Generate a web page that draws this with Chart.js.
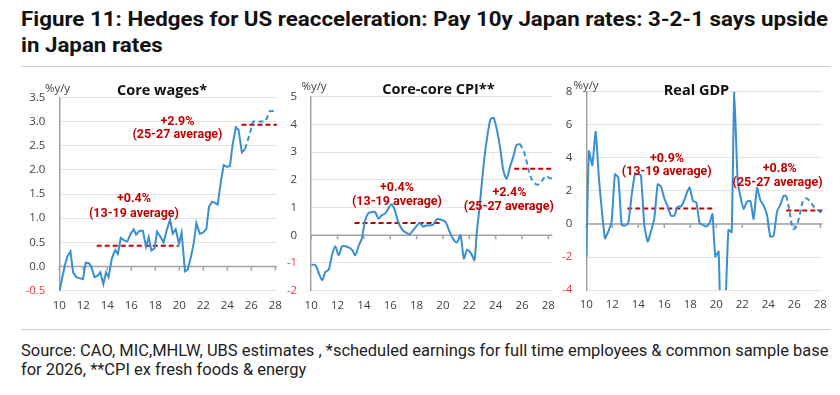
<!DOCTYPE html>
<html><head><meta charset="utf-8">
<script src="https://cdn.jsdelivr.net/npm/chart.js@4.4.1/dist/chart.umd.min.js"></script>
<style>
html,body{margin:0;padding:0;background:#fff;}
#wrap{position:relative;width:840px;height:395px;overflow:hidden;font-family:Roboto,"Open Sans",sans-serif;}
.t{position:absolute;left:21px;white-space:nowrap;font-weight:700;color:#111;font-size:21px;line-height:26px;transform-origin:0 50%;}
.s{position:absolute;left:21px;white-space:nowrap;color:#222;font-size:15px;line-height:18.5px;}
.rule{position:absolute;left:21px;width:810px;height:1.5px;background:#cfcfcf;}
canvas{position:absolute;}
</style></head><body>
<div id="wrap">
<div class="t" id="t1" style="top:6px">Figure 11: Hedges for US reacceleration: Pay 10y Japan rates: 3-2-1 says upside</div>
<div class="t" id="t2" style="top:32px">in Japan rates</div>
<div class="rule" style="top:65.5px"></div>
<canvas id="c1" width="290" height="250" style="left:0px;top:70px"></canvas>
<canvas id="c2" width="285" height="250" style="left:280px;top:70px"></canvas>
<canvas id="c3" width="285" height="250" style="left:555px;top:70px"></canvas>
<div class="rule" style="top:328.5px"></div>
<div class="s" id="s1" style="top:342px">Source: CAO, MIC,MHLW, UBS estimates , *scheduled earnings for full time employees &amp; common sample base</div>
<div class="s" id="s2" style="top:360.5px">for 2026, **CPI ex fresh foods &amp; energy</div>
</div>
<script>
// ---------- DATA ----------
const xTicks = [10, 12, 14, 16, 18, 20, 22, 24, 26, 28];
const panelTitles = ['Core wages*', 'Core-core CPI**', 'Real GDP'];
const unitLabel = '%y/y';

// Core wages (%y/y)
const wageYTicks = [-0.5, 0, 0.5, 1, 1.5, 2, 2.5, 3, 3.5];
const wageX = [10.0,10.47,10.66,10.93,11.15,11.42,11.7,11.97,12.2,12.47,12.66,12.93,13.2,13.42,13.67,13.89,14.1,14.38,14.66,14.88,15.12,15.48,15.67,15.95,16.2,16.4,16.68,16.96,17.23,17.45,17.67,17.95,18.14,18.41,18.68,18.96,19.23,19.45,19.7,19.97,20.19,20.47,20.68,20.96,21.2,21.42,21.7,21.97,22.25,22.47,22.74,22.93,23.2,23.48,23.7,23.97,24.22,24.44,24.71,24.93,25.21,25.48];
const wageY = [-0.52,0.03,0.2,0.31,-0.12,-0.22,-0.24,-0.26,0.08,0.07,0.0,-0.22,-0.19,-0.12,-0.36,-0.12,-0.22,0.17,0.34,0.26,0.59,0.53,0.52,0.68,0.77,0.66,0.74,0.74,0.41,0.61,0.33,0.38,0.72,0.62,0.5,0.76,0.97,0.68,0.77,0.47,0.7,-0.1,-0.07,0.19,0.48,0.9,0.68,0.7,0.77,1.24,1.34,1.32,1.28,1.79,2.1,2.06,2.08,2.52,2.88,2.83,2.36,2.43];
const wageFcX = [25.48, 25.8, 26.16, 26.6, 27.18, 27.53, 28.1];
const wageFcY = [2.43, 2.69, 3.0, 3.0, 3.0, 3.21, 3.22];
const wageAvg = [0.43, 2.93];
const wageAvgFrom = [13.12, 25.18];
const wageAvgTo = [19.92, 28.3];
const wageNotes = ['+0.4%', '(13-19 average)', '+2.9%', '(25-27 average)'];

// Core-core CPI (%y/y)
const cpiYTicks = [-2, -1, 0, 1, 2, 3, 4, 5];
const cpiX = [10.0,10.32,10.58,10.83,11.08,11.33,11.58,11.83,12.08,12.34,12.59,12.84,13.09,13.34,13.59,13.84,14.1,14.34,14.6,14.85,15.1,15.35,15.6,15.85,16.1,16.35,16.6,16.86,17.1,17.48,17.73,17.98,18.23,18.48,18.74,19.0,19.25,19.55,19.88,20.2,20.46,20.76,21.06,21.33,21.59,21.84,22.14,22.39,22.57,22.77,23.02,23.27,23.6,23.85,24.1,24.35,24.58,24.83,25.08,25.33,25.58,25.83];
const cpiY = [-1.06,-1.08,-1.38,-1.62,-1.32,-1.24,-0.72,-0.4,-0.72,-0.4,-0.4,-0.44,-0.52,-0.72,-0.4,-0.12,0.54,0.8,0.84,0.84,0.6,0.72,0.78,0.96,1.12,0.9,0.48,0.24,0.12,0.04,0.18,0.32,0.44,0.32,0.35,0.36,0.38,0.58,0.56,0.48,0.18,-0.12,-0.26,0.0,-0.84,-0.52,-0.66,-0.9,0.12,0.96,2.22,3.25,4.18,4.23,3.79,3.13,2.34,2.04,2.46,2.82,3.25,3.3];
const cpiFcX = [25.83, 26.11, 26.36, 26.61, 26.91, 27.24, 27.54, 27.79, 28.09, 28.35];
const cpiFcY = [3.3, 3.06, 2.64, 2.16, 1.9, 1.83, 1.98, 2.13, 2.07, 2.04];
const cpiAvg = [0.44, 2.4];
const cpiAvgFrom = [13.29, 25.41];
const cpiAvgTo = [19.95, 28.45];
const cpiNotes = ['+0.4%', '(13-19 average)', '+2.4%', '(25-27 average)'];

// Real GDP (%y/y)
const gdpYTicks = [-4, -2, 0, 2, 4, 6, 8];
const gdpX = [10.0,10.2,10.46,10.72,10.97,11.18,11.44,11.69,11.95,12.2,12.46,12.72,12.97,13.23,13.49,13.74,14.0,14.2,14.46,14.72,14.97,15.23,15.49,15.74,16.0,16.26,16.51,16.77,17.03,17.28,17.54,17.79,17.95,18.21,18.46,18.72,18.97,19.23,19.48,19.7,19.92,20.18,20.43,20.68,20.93,21.18,21.38,21.64,21.87,22.1,22.36,22.62,22.87,23.13,23.38,23.64,23.9,24.15,24.41,24.67,24.92,25.18,25.38];
const gdpY = [-2.0,4.4,3.55,5.58,2.76,0.95,-0.87,-0.46,0.18,3.0,2.8,-0.06,-0.1,0.05,1.75,3.0,3.0,2.96,-0.06,-1.07,-0.46,0.34,2.4,2.26,1.55,1.05,0.5,0.5,1.05,1.05,1.45,2.0,2.2,1.39,1.31,0.04,-0.06,-0.16,0.04,0.6,-1.98,-1.67,-10.0,-5.5,-0.36,-0.5,8.0,2.6,1.6,0.91,1.35,1.39,0.3,2.2,1.45,1.11,0.54,-0.77,-0.71,0.75,1.15,1.71,1.71];
const gdpFcX = [25.38, 25.64, 25.9, 26.15, 26.41, 26.67, 26.92, 27.18, 27.49, 27.79, 28.13];
const gdpFcY = [1.71, 0.75, -0.3, -0.16, 0.54, 1.39, 1.55, 1.39, 1.05, 0.85, 0.65];
const gdpAvg = [0.93, 0.81];
const gdpAvgFrom = [13.15, 25.38];
const gdpAvgTo = [19.92, 28.3];
const gdpNotes = ['+0.9%', '(13-19 average)', '+0.8%', '(25-27 average)'];

// ---------- STYLE / LAYOUT ----------
const BLUE = '#3a8fd2', RED = '#c00000', NEG = '#e8383d', TICK = '#404040', GRID = '#e3e3e3', AXIS = '#a3a3a3';
const TICK_FONT = {family: '"Open Sans", sans-serif', size: 11.5};

const pts = (xs, ys) => xs.map((x, i) => ({x: x, y: ys[i]}));

const panels = [
  { id: 'c1', title: panelTitles[0], yTicks: wageYTicks, fmt: v => v.toFixed(1),
    x: wageX, y: wageY, fx: wageFcX, fy: wageFcY, tension: 0, fTension: 0,
    avg: wageAvg, from: wageAvgFrom, to: wageAvgTo, notes: wageNotes,
    notePos: [[16.22, 1.40], [16.22, 1.09], [19.84, 2.99], [19.84, 2.72]],
    layout: { yW: 59.3, xMax: 28.13, pr: 10.1, pt: 27.3, pb: 3.3, xH: 26, titleXY: [162, 21], unitXY: [57.5, 19] } },
  { id: 'c2', title: panelTitles[1], yTicks: cpiYTicks, fmt: v => String(v),
    x: cpiX, y: cpiY, fx: cpiFcX, fy: cpiFcY, tension: 0.25, fTension: 0.35,
    avg: cpiAvg, from: cpiAvgFrom, to: cpiAvgTo, notes: cpiNotes,
    notePos: [[16.51, 1.70], [16.51, 1.21], [25.05, 1.52], [25.0, 1.03]],
    layout: { yW: 31.2, xMax: 28.3, pr: 12.7, pt: 26.7, pb: 3.3, xH: 26, titleXY: [158.5, 19.5], unitXY: [34, 17] } },
  { id: 'c3', title: panelTitles[2], yTicks: gdpYTicks, fmt: v => String(v),
    x: gdpX, y: gdpY, fx: gdpFcX, fy: gdpFcY, tension: 0.15, fTension: 0.35,
    avg: gdpAvg, from: gdpAvgFrom, to: gdpAvgTo, notes: gdpNotes,
    notePos: [[16.21, 3.91], [16.18, 3.16], [24.88, 3.31], [24.71, 2.46]],
    layout: { yW: 31.3, xMax: 28.15, pr: 17.7, pt: 21.7, pb: 3.9, xH: 26, titleXY: [141.5, 21], unitXY: [31, 16] } }
];

const decor = {
  id: 'decor',
  beforeDatasetsDraw(chart, args, o) {
    const {ctx, chartArea: a, scales} = chart;
    const y0 = scales.y.getPixelForValue(0);
    ctx.save();
    ctx.strokeStyle = AXIS; ctx.lineWidth = 1.5;
    ctx.beginPath();
    ctx.moveTo(a.left, y0); ctx.lineTo(a.right, y0);
    xTicks.forEach(v => { const px = scales.x.getPixelForValue(v); ctx.moveTo(px, y0); ctx.lineTo(px, y0 + 4); });
    ctx.stroke();
    ctx.restore();
  },
  afterDatasetsDraw(chart, args, o) {
    const {ctx, scales} = chart;
    const p = o.panel;
    ctx.save();
    ctx.textAlign = 'center'; ctx.textBaseline = 'middle';
    ctx.fillStyle = '#111';
    ctx.font = 'bold 14.5px "Open Sans", sans-serif';
    ctx.fillText(p.title, p.layout.titleXY[0], p.layout.titleXY[1]);
    ctx.fillStyle = TICK;
    ctx.font = '11.5px "Open Sans", sans-serif';
    ctx.fillText(unitLabel, p.layout.unitXY[0], p.layout.unitXY[1]);
    ctx.fillStyle = RED;
    ctx.font = 'bold 12.5px Roboto, sans-serif';
    p.notes.forEach((t, i) => {
      ctx.fillText(t, scales.x.getPixelForValue(p.notePos[i][0]), scales.y.getPixelForValue(p.notePos[i][1]));
    });
    ctx.restore();
  }
};

function makeDatasets(p) {
  const ds = [
    {data: pts(p.x, p.y), borderColor: BLUE, borderWidth: 2, pointRadius: 0, tension: p.tension, fill: false},
    {data: pts(p.fx, p.fy), borderColor: BLUE, borderWidth: 2, borderDash: [5, 3.5], pointRadius: 0, tension: p.fTension, fill: false}
  ];
  p.avg.forEach((v, i) => ds.push({
    data: [{x: p.from[i], y: v}, {x: p.to[i], y: v}],
    borderColor: RED, borderWidth: 2, borderDash: [5, 3], pointRadius: 0, fill: false
  }));
  return ds;
}

panels.forEach(p => {
  const L = p.layout;
  new Chart(document.getElementById(p.id), {
    type: 'line',
    data: { datasets: makeDatasets(p) },
    options: {
      responsive: false, animation: false, devicePixelRatio: 1,
      layout: { padding: { left: 0, right: L.pr, top: L.pt, bottom: L.pb } },
      plugins: { legend: {display: false}, tooltip: {enabled: false}, title: {display: false}, decor: {panel: p} },
      scales: {
        x: {
          type: 'linear', min: 10, max: L.xMax,
          afterBuildTicks: sc => { sc.ticks = xTicks.map(v => ({value: v})); },
          afterFit: sc => { sc.height = L.xH; },
          grid: {display: false, drawTicks: false}, border: {display: false},
          ticks: {color: TICK, font: TICK_FONT, padding: 8, maxRotation: 0, autoSkip: false, callback: v => String(v)}
        },
        y: {
          type: 'linear', min: p.yTicks[0], max: p.yTicks[p.yTicks.length - 1],
          afterBuildTicks: sc => { sc.ticks = p.yTicks.map(v => ({value: v})); },
          afterFit: sc => { sc.width = L.yW; },
          grid: {color: GRID, lineWidth: 1, drawTicks: false},
          border: {display: true, color: AXIS, width: 1.5},
          ticks: {padding: 14, font: TICK_FONT, color: c => (c.tick && c.tick.value < 0) ? NEG : TICK, callback: v => p.fmt(v)}
        }
      }
    },
    plugins: [decor]
  });
});

// ---------- fit header/footer text widths ----------
function fitScale(el, target) {
  const w = el.getBoundingClientRect().width;
  const s = target / w;
  el.style.transform = 'scaleX(' + s + ')';
  return s;
}
function fitWidth(el, target) {
  const base = parseFloat(getComputedStyle(el).fontSize);
  const w = el.getBoundingClientRect().width;
  const fs = base * target / w;
  el.style.fontSize = fs + 'px';
  return fs;
}
const ts = fitScale(document.getElementById('t1'), 807);
document.getElementById('t2').style.transform = 'scaleX(' + ts + ')';
const sfs = fitWidth(document.getElementById('s1'), 808);
document.getElementById('s2').style.fontSize = sfs + 'px';
</script>
</body></html>
